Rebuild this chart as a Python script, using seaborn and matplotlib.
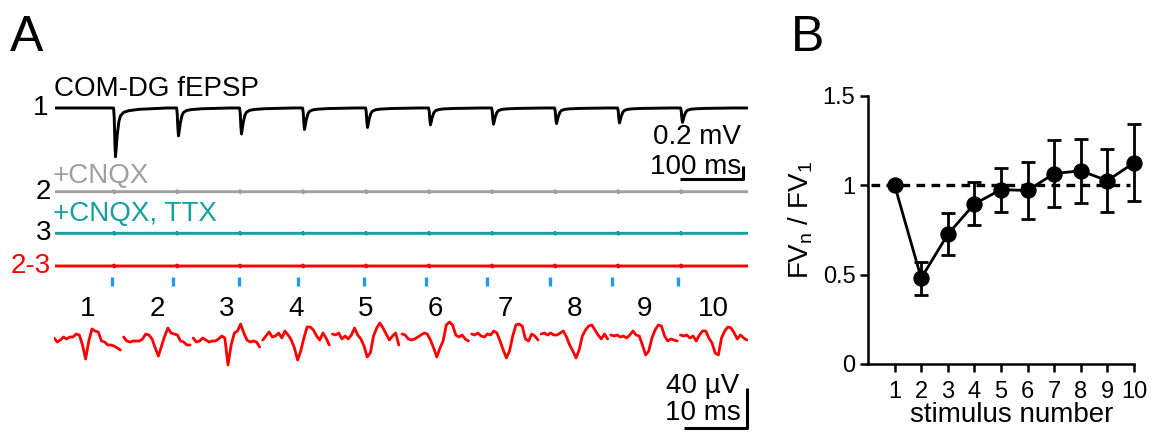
import matplotlib
matplotlib.use("Agg")
import matplotlib.pyplot as plt
import seaborn as sns

sns.set_style("ticks")
plt.rcParams['font.family'] = ['Liberation Sans', 'DejaVu Sans']
plt.rcParams['mathtext.fontset'] = 'custom'
plt.rcParams['mathtext.rm'] = 'Liberation Sans'
plt.rcParams['mathtext.it'] = 'Liberation Sans:italic'
for key in ['text.color', 'axes.edgecolor', 'axes.labelcolor', 'xtick.color', 'ytick.color']:
    plt.rcParams[key] = 'black'

# --- panel A data ---
stim_ms = [93, 193, 293, 393, 493, 593, 693, 793, 893, 993]
stim_mark_ms = [90.5, 187, 292, 386, 490.5, 589, 686, 786, 884, 989]
fepsp_amp_mv = [0.75, 0.43, 0.40, 0.33, 0.30, 0.26, 0.25, 0.24, 0.23, 0.22]
# normalised fEPSP waveform (time after stimulus in ms, relative depth)
shape_t = [0, 1, 2, 3, 4, 5.8, 8.5, 11, 16, 24, 40, 61, 85]
shape_v = [0, -0.2, -0.7, -1, -0.85, -0.55, -0.27, -0.16, -0.09, -0.056, -0.028, -0.014, 0]
# small stimulus artefact seen on the other traces
blip_t = [0, 0.6, 1.2, 1.8]
blip_v = [0, 1, -1, 0]

# 2-3 difference around each stimulus, uV, 0.5 ms samples
snip1 = [0, -4, -2, 1, -1, 1, 1, 4, 3, -7, -21, -3, 9, 7, 6, -3, -4, -7, -7, -8, -10, -12]
snip2 = [1, -3, -4, -3, -3, -3, -1, 4, 3, -1, -10, -18, -8, 2, 10, 5, 4, 3, -3, -4, -7, -7]
snip3 = [0, -4, -3, 0, -2, -4, -3, -3, -1, 2, 0, -27, -7, 5, 7, 14, 5, -2, -4, -3, -4, -9]
snip4 = [-2, 2, 6, 1, 2, 5, 0, 7, 3, -2, -10, -22, -13, 0, 11, 11, 8, 2, -2, 5, 0, -7]
snip5 = [4, 3, 5, -1, 2, -1, 3, 10, 3, -1, -8, -19, -15, 2, 10, 15, 10, 4, -2, 2, 5, -7]
snip6 = [4, 3, -1, -2, -1, 1, 3, 5, 4, -2, -10, -19, -10, -3, 13, 16, 13, 3, 1, 3, -1, -3]
snip7 = [4, 3, 5, 2, 1, 4, 3, 7, 5, -3, -12, -20, -13, 2, 13, 14, 12, -1, -3, 4, 2, -2]
snip8 = [4, 5, 3, 5, 3, 3, 5, 7, 1, -7, -13, -20, -12, 2, 8, 12, 13, 8, 3, -1, 4, -1]
snip9 = [3, 2, 3, 1, 2, 0, 3, 7, 3, 2, -7, -17, -13, 0, 8, 13, 12, 2, -3, -1, -2, -3]
snip10 = [3, 2, 3, 0, 2, -3, 3, 7, 7, 0, -5, -15, -17, 0, 7, 11, 10, 5, -1, 3, 0, -2]
snippets = [snip1, snip2, snip3, snip4, snip5, snip6, snip7, snip8, snip9, snip10]

# --- panel B data ---
stimulus = [1, 2, 3, 4, 5, 6, 7, 8, 9, 10]
fv_ratio = [1.0, 0.48, 0.725, 0.895, 0.975, 0.97, 1.065, 1.08, 1.025, 1.125]
fv_sem = [0, 0.093, 0.118, 0.12, 0.123, 0.158, 0.19, 0.18, 0.178, 0.214]

W, H = 1153, 437
fig = plt.figure(figsize=(W / 100, H / 100), dpi=100)
FS = 20


def px_axes(x0, y0, x1, y1):
    return fig.add_axes([x0 / W, 1 - y1 / H, (x1 - x0) / W, (y1 - y0) / H])


def ftext(x, y, s, **kw):
    fig.text(x / W, 1 - y / H, s, **kw)


def build(base, amps, tt, vv, t_end=1100):
    xs, ys = [0], [base]
    for s, a in zip(stim_ms, amps):
        xs += [s + t for t in tt]
        ys += [base + a * v for v in vv]
    xs.append(t_end)
    ys.append(base)
    return xs, ys


# ---------------- panel A, traces ----------------
axT = px_axes(55, 60, 748, 295)
axT.set_xlim(0, 1100)
axT.set_ylim(-2.877, 0.738)
axT.axis('off')

traces = [
    (build(0, fepsp_amp_mv, shape_t, shape_v), 'black'),
    (build(-1.288, [0.015] * 10, blip_t, blip_v), '#a0a0a0'),
    (build(-1.928, [0.015] * 10, blip_t, blip_v), '#14a0a0'),
    (build(-2.431, [0.015] * 10, blip_t, blip_v), '#ff0000'),
]
for (xs, ys), c in traces:
    sns.lineplot(x=xs, y=ys, ax=axT, color=c, lw=2.1, estimator=None, sort=False)

axT.vlines(stim_mark_ms, -2.6, -2.74, color='#1e9cf0', lw=2.4)

# scale bar 0.2 mV / 100 ms
axT.plot([992, 1092, 1092], [-1.092, -1.092, -0.892], color='black', lw=2.2,
         solid_capstyle='butt')
ftext(741, 137, '0.2 mV', ha='right', va='center', fontsize=FS)
ftext(741, 167, '100 ms', ha='right', va='center', fontsize=FS)

ftext(54, 89, 'COM-DG fEPSP', ha='left', va='center', fontsize=FS)
ftext(48, 108, '1', ha='right', va='center', fontsize=FS)
ftext(53, 176, '+CNQX', ha='left', va='center', fontsize=FS, color='#a0a0a0')
ftext(51, 192, '2', ha='right', va='center', fontsize=FS)
ftext(53, 214, '+CNQX, TTX', ha='left', va='center', fontsize=FS, color='#14a0a0')
ftext(51, 233, '3', ha='right', va='center', fontsize=FS)
ftext(51, 266, '2-3', ha='right', va='center', fontsize=FS, color='#ff0000')

# ---------------- panel A, zoomed snippets ----------------
axS = px_axes(54, 295, 750, 437)
axS.set_xlim(0, 110)
axS.set_ylim(-99, 43)
axS.axis('off')
for k, vals in enumerate(snippets):
    t = [11 * k + 0.5 * i for i in range(len(vals))]
    sns.lineplot(x=t, y=vals, ax=axS, color='#ff0000', lw=2, estimator=None, sort=False)
    axS.text(11 * k + 5.25, 29.5, str(k + 1), ha='center', va='center', fontsize=FS)

axS.plot([99.5, 109.5, 109.5], [-90, -90, -50], color='black', lw=2.2,
         solid_capstyle='butt')
ftext(739, 386, '40 µV', ha='right', va='center', fontsize=FS)
ftext(741, 413, '10 ms', ha='right', va='center', fontsize=FS)

ftext(10, 38, 'A', ha='left', va='center', fontsize=36)
ftext(791, 38, 'B', ha='left', va='center', fontsize=36)

# ---------------- panel B ----------------
axB = px_axes(868, 95.7, 1134, 364)
axB.axhline(1, xmin=0.01, xmax=0.985, color='black', lw=2.4, ls=(0, (2.6, 1.9)))
axB.errorbar(stimulus, fv_ratio, yerr=fv_sem, fmt='none', ecolor='black',
             elinewidth=2, capsize=5, capthick=2, clip_on=False)
sns.lineplot(x=stimulus, y=fv_ratio, ax=axB, color='black', lw=2, marker='o',
             markersize=11, markeredgecolor='black', clip_on=False)
axB.set_xlim(0, 10)
axB.set_ylim(0, 1.5)
axB.set_xticks(stimulus)
axB.set_xticklabels([str(s) for s in stimulus])
axB.set_yticks([0, 0.5, 1, 1.5])
axB.set_yticklabels(['0', '0.5', '1', '1.5'])
axB.tick_params(axis='y', labelsize=17, width=1.8, length=6, pad=3)
axB.tick_params(axis='x', labelsize=17, width=1.8, length=6, pad=6)
for side in ['top', 'right']:
    axB.spines[side].set_visible(False)
for side in ['left', 'bottom']:
    axB.spines[side].set_linewidth(1.8)
axB.set_xlabel('stimulus number', fontsize=FS)
axB.xaxis.set_label_coords(0.54, -0.19)
axB.xaxis.label.set_va('center')
axB.set_ylabel(r'FV$_\mathrm{n}$ / FV$_1$', fontsize=FS)
axB.yaxis.set_label_coords(-0.2, 0.537)

fig.savefig('out.png', dpi=100)
